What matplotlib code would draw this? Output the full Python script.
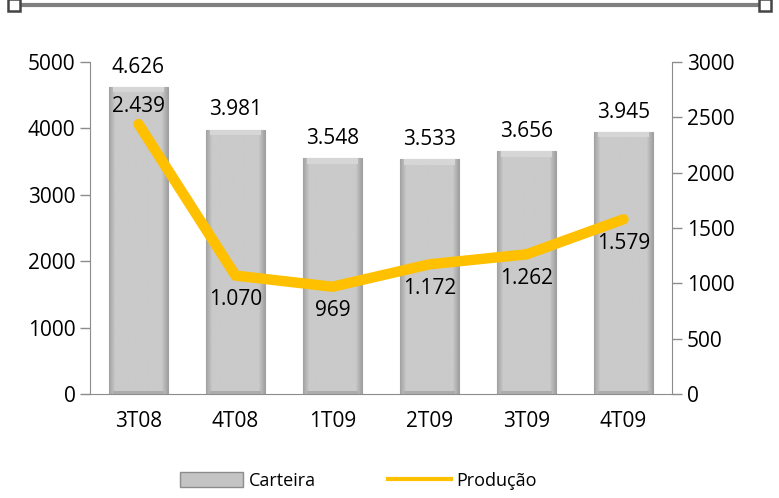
import numpy as np
import matplotlib
matplotlib.use("Agg")
import matplotlib.pyplot as plt
from matplotlib.lines import Line2D
from matplotlib.patches import Patch

plt.rcParams['font.family'] = ['Open Sans', 'DejaVu Sans']

trimestres = ["3T08", "4T08", "1T09", "2T09", "3T09", "4T09"]
carteira = [4626, 3981, 3548, 3533, 3656, 3945]
producao = [2439, 1070, 969, 1172, 1262, 1579]

def fmt(v):
    return f"{v:,}".replace(",", ".")

fig = plt.figure(figsize=(7.79, 4.98), dpi=100)
ax = fig.add_axes([90 / 779, 1 - 394 / 498, 582 / 779, 332 / 498])
ax2 = ax.twinx()

x = np.arange(len(trimestres))
bars = ax.bar(x, carteira, width=0.6, color="#c8c8c8", edgecolor="#a0a0a0", linewidth=0.8, zorder=2)

# bevel look: grey body, darker sides, lighter top strip
t = np.linspace(0, 1, 60)
side = np.clip(np.minimum(t, 1 - t) / 0.1, 0, 1)
grad = (0.64 + 0.15 * side)[None, :]
for b in bars:
    x0, y0, w, h = b.get_x(), b.get_y(), b.get_width(), b.get_height()
    im = ax.imshow(grad, cmap="gray", vmin=0, vmax=1, aspect="auto",
                   extent=(x0, x0 + w, y0, y0 + h), zorder=2.5)
    im.set_clip_path(b)
    ax.fill_between([x0 + 0.04, x0 + w - 0.04], h - 80, h, color="#d6d6d6", zorder=2.6, lw=0)
    ax.fill_between([x0 + 0.04, x0 + w - 0.04], 0, 50, color="#acacac", zorder=2.6, lw=0)

for xi, v in zip(x, carteira):
    ax.text(xi, v + 140, fmt(v), ha="center", va="bottom", fontsize=15, zorder=5)

ax2.plot(x, producao, color="#FFC000", lw=7.5, solid_capstyle="round", zorder=3)
for i, (xi, v) in enumerate(zip(x, producao)):
    if i == 0:
        ax2.text(xi, v + 60, fmt(v), ha="center", va="bottom", fontsize=15, zorder=5)
    else:
        ax2.text(xi, v - 120, fmt(v), ha="center", va="top", fontsize=15, zorder=5)

ax.set_xlim(-0.5, len(x) - 0.5)
ax.set_ylim(0, 5000)
ax2.set_ylim(0, 3000)
ax.set_yticks(range(0, 5001, 1000))
ax2.set_yticks(range(0, 3001, 500))
ax.set_xticks(x)
ax.set_xticklabels(trimestres)
ax2.set_zorder(ax.get_zorder() + 1)
ax2.patch.set_visible(False)

for a in (ax, ax2):
    a.spines["top"].set_visible(False)
    for s in a.spines.values():
        s.set_color("#8c8c8c")
    a.tick_params(labelsize=15, colors="#8c8c8c", labelcolor="black", length=7, width=1)
ax.tick_params(axis="x", length=0, pad=12)
ax.spines["right"].set_visible(False)
ax2.spines["left"].set_visible(False)
ax2.spines["bottom"].set_visible(False)

# legend
handles = [Patch(facecolor="#c4c4c4", edgecolor="#8c8c8c", label="Carteira"),
           Line2D([], [], color="#FFC000", lw=3, label="Produção")]
fig.legend(handles=handles, loc="center", bbox_to_anchor=(0.46, 0.035), ncol=2, frameon=False,
           fontsize=13, handlelength=3.5, handleheight=0.9, columnspacing=4, handletextpad=0.3)

# decorative top rule
fig.add_artist(Line2D([14 / 779, 765 / 779], [1 - 5 / 498] * 2, color="#7f7f7f", lw=3))
fig.add_artist(Line2D([14 / 779, 765 / 779], [1 - 5 / 498] * 2, ls="none", marker="s", ms=9,
                      mfc="white", mec="#444444", mew=1.8))

fig.savefig("out.png", dpi=100)
